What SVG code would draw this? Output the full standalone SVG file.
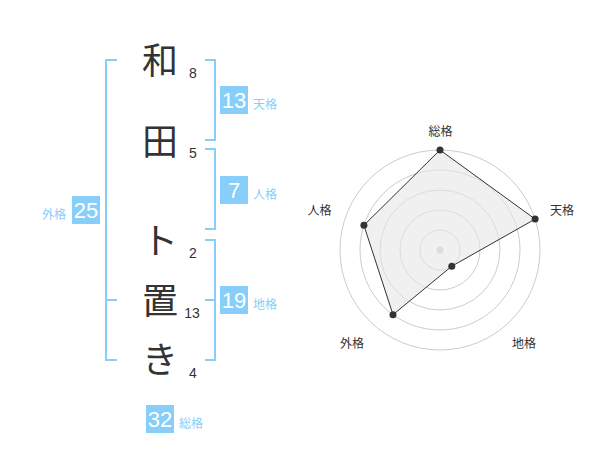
<svg xmlns="http://www.w3.org/2000/svg" width="600" height="470" viewBox="0 0 600 470">
<style>
.kanji{font-family:"Noto Sans CJK JP","Noto Sans CJK SC",sans-serif;font-size:36px;fill:#333;text-anchor:middle}
.num{font-family:"Liberation Sans",Arial,sans-serif;font-size:14px;fill:#333;text-anchor:middle}
.br{fill:none;stroke:#87CEFA;stroke-width:2}
.box{fill:#87CEFA}
.bnum{font-family:"Liberation Sans",Arial,sans-serif;font-size:22px;fill:#fff;text-anchor:middle}
.lbl{font-family:"Noto Sans CJK JP","Noto Sans CJK SC",sans-serif;font-size:12px;fill:#87CEFA}
.ring{fill:none;stroke:#ccc;stroke-width:1}
.axl{font-family:"Noto Sans CJK JP","Noto Sans CJK SC",sans-serif;font-size:12px;fill:#333;text-anchor:middle}
.pt{fill:#333}
</style>
<rect width="600" height="470" fill="#fff"/>
<g id="name">
<text class="kanji" x="160" y="74">和</text>
<text class="kanji" x="160" y="155">田</text>
<text class="kanji" x="160" y="254">ト</text>
<text class="kanji" x="160" y="314">置</text>
<text class="kanji" x="160" y="373">き</text>
<text class="num" x="193" y="78">8</text>
<text class="num" x="193" y="158">5</text>
<text class="num" x="193" y="258">2</text>
<text class="num" x="192" y="318">13</text>
<text class="num" x="193" y="378">4</text>
</g>
<g id="connectors">
<path class="br" d="M117,60 H106 V360 H117 M106,300 H117"/>
<path class="br" d="M205,60 H215 V140 H205"/>
<path class="br" d="M205,149 H215 V229 H205"/>
<path class="br" d="M205,240 H215 V360 H205 M205,300 H215"/>
</g>
<g id="tenkaku">
<rect class="box" x="220" y="86" width="28" height="28"/>
<text class="bnum" x="234" y="108">13</text>
<text class="lbl" x="253" y="109">天格</text>
</g>
<g id="jinkaku">
<rect class="box" x="220" y="176" width="28" height="28"/>
<text class="bnum" x="234" y="198">7</text>
<text class="lbl" x="253" y="199">人格</text>
</g>
<g id="chikaku">
<rect class="box" x="220" y="286" width="28" height="28"/>
<text class="bnum" x="234" y="308">19</text>
<text class="lbl" x="253" y="309">地格</text>
</g>
<g id="gaikaku">
<rect class="box" x="72" y="196" width="28" height="28"/>
<text class="bnum" x="86" y="218">25</text>
<text class="lbl" x="66" y="219" text-anchor="end">外格</text>
</g>
<g id="soukaku">
<rect class="box" x="146" y="405" width="28" height="28"/>
<text class="bnum" x="160" y="427">32</text>
<text class="lbl" x="179" y="428">総格</text>
</g>
<g id="radar">
<circle class="ring" cx="440" cy="250" r="20"/>
<circle class="ring" cx="440" cy="250" r="40"/>
<circle class="ring" cx="440" cy="250" r="60"/>
<circle class="ring" cx="440" cy="250" r="80"/>
<circle class="ring" cx="440" cy="250" r="100"/>
<circle cx="440" cy="250" r="3.5" fill="#ccc"/>
<polygon points="440,150 535.1,219.1 451.8,266.2 393,314.7 363.9,225.3" fill="#e6e6e6" fill-opacity="0.6" stroke="#333" stroke-width="1"/>
<circle class="pt" cx="440" cy="150" r="3.5"/>
<circle class="pt" cx="535.1" cy="219.1" r="3.5"/>
<circle class="pt" cx="451.8" cy="266.2" r="3.5"/>
<circle class="pt" cx="393" cy="314.7" r="3.5"/>
<circle class="pt" cx="363.9" cy="225.3" r="3.5"/>
<text class="axl" x="440.5" y="136">総格</text>
<text class="axl" x="562" y="215">天格</text>
<text class="axl" x="524" y="348">地格</text>
<text class="axl" x="352" y="348">外格</text>
<text class="axl" x="319.5" y="215">人格</text>
</g>
</svg>
